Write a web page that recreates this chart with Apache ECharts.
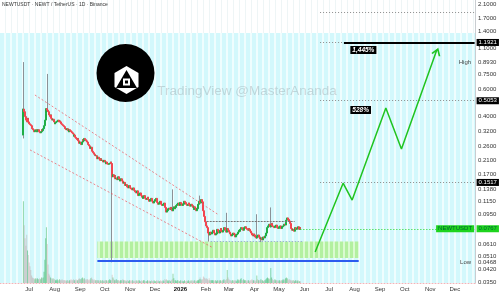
<!DOCTYPE html>
<html>
<head>
<meta charset="utf-8">
<script src="https://cdn.jsdelivr.net/npm/echarts@6/dist/echarts.min.js"></script>
<style>
  html, body { margin: 0; padding: 0; background: #fff; }
  #chart { width: 500px; height: 295px; }
</style>
</head>
<body>
<div id="chart"></div>
<script>
// --- data (daily candles, NEWTUSDT 1D) ---
const startDay = '2025-05-27'      // left edge of the time axis
const dayCount = 578               // up to late Dec 2026
const firstCandle = '2025-06-24'
const firstOpen = 0.305
const closes = [
  0.447, 0.43, 0.40, 0.38, 0.37, 0.39, 0.37, 0.36, 0.355, 0.35,
  0.34, 0.335, 0.33, 0.32, 0.325, 0.33, 0.32, 0.325, 0.33, 0.32,
  0.315, 0.32, 0.33, 0.325, 0.335, 0.35, 0.38, 0.42, 0.45, 0.44,
  0.43, 0.41, 0.40, 0.41, 0.39, 0.38, 0.385, 0.37, 0.36, 0.365,
  0.37, 0.375, 0.38, 0.37, 0.375, 0.37, 0.36, 0.355, 0.35, 0.345,
  0.34, 0.335, 0.33, 0.335, 0.325, 0.32, 0.33, 0.325, 0.32, 0.315,
  0.31, 0.30, 0.305, 0.295, 0.29, 0.285, 0.29, 0.28, 0.27, 0.275,
  0.265, 0.275, 0.285, 0.28, 0.29, 0.285, 0.28, 0.275, 0.27, 0.265,
  0.26, 0.25, 0.255, 0.245, 0.24, 0.235, 0.23, 0.225, 0.225, 0.22,
  0.215, 0.22, 0.215, 0.21, 0.215, 0.21, 0.21, 0.205, 0.21, 0.205,
  0.20, 0.205, 0.20, 0.198, 0.20, 0.202, 0.205, 0.20, 0.165, 0.17,
  0.165, 0.168, 0.16, 0.162, 0.158, 0.165, 0.16, 0.155, 0.158, 0.16,
  0.155, 0.15, 0.152, 0.148, 0.145, 0.147, 0.142, 0.14, 0.143, 0.145,
  0.14, 0.138, 0.136, 0.14, 0.138, 0.135, 0.132, 0.13, 0.134, 0.128,
  0.125, 0.128, 0.13, 0.125, 0.122, 0.12, 0.123, 0.125, 0.12, 0.118,
  0.12, 0.122, 0.118, 0.115, 0.118, 0.12, 0.118, 0.115, 0.112, 0.115,
  0.118, 0.12, 0.116, 0.113, 0.11, 0.112, 0.115, 0.112, 0.11, 0.108,
  0.11, 0.112, 0.105, 0.102, 0.098, 0.10, 0.103, 0.104, 0.102, 0.105,
  0.103, 0.10, 0.104, 0.106, 0.103, 0.105, 0.108, 0.11, 0.112, 0.108,
  0.11, 0.113, 0.111, 0.108, 0.11, 0.112, 0.115, 0.113, 0.11, 0.108,
  0.11, 0.112, 0.109, 0.107, 0.11, 0.108, 0.105, 0.102, 0.106, 0.104,
  0.10, 0.103, 0.106, 0.11, 0.115, 0.112, 0.118, 0.114, 0.11, 0.10,
  0.092, 0.085, 0.08, 0.078, 0.074, 0.072, 0.07, 0.073, 0.071, 0.072,
  0.073, 0.075, 0.072, 0.07, 0.071, 0.073, 0.076, 0.074, 0.072, 0.075,
  0.077, 0.074, 0.073, 0.075, 0.078, 0.076, 0.074, 0.073, 0.077, 0.075,
  0.073, 0.071, 0.07, 0.069, 0.07, 0.072, 0.071, 0.069, 0.068, 0.07,
  0.071, 0.073, 0.075, 0.074, 0.076, 0.078, 0.077, 0.075, 0.076, 0.078,
  0.079, 0.077, 0.076, 0.075, 0.077, 0.076, 0.074, 0.072, 0.07, 0.069,
  0.071, 0.07, 0.068, 0.067, 0.069, 0.068, 0.07, 0.068, 0.066, 0.067,
  0.065, 0.066, 0.068, 0.067, 0.069, 0.072, 0.075, 0.078, 0.08, 0.082,
  0.079, 0.081, 0.083, 0.08, 0.079, 0.078, 0.08, 0.081, 0.079, 0.078,
  0.077, 0.079, 0.08, 0.078, 0.077, 0.079, 0.08, 0.082, 0.081, 0.084,
  0.087, 0.09, 0.088, 0.086, 0.083, 0.079, 0.077, 0.075, 0.076, 0.074,
  0.077, 0.078, 0.076, 0.077, 0.079, 0.076, 0.078, 0.0767
]
// long wicks: [candle #, low, high]
const wicks = [
  [0, 0.29, 0.893], [29, 0.43, 0.75], [108, 0.0468, 0.205], [182, 0.10, 0.137],
  [215, 0.11, 0.125], [226, 0.0635, 0.073], [248, 0.073, 0.097], [284, 0.066, 0.095],
  [289, 0.063, 0.068], [301, 0.078, 0.105]
]
const volumes = [
  88, 62, 48, 40, 52, 35, 30, 22, 18, 14,
  8, 6, 5, 5, 4, 5, 4, 5, 4, 4,
  5, 4, 6, 5, 6, 12, 25, 48, 60, 42,
  20, 10, 8, 6, 5, 4, 5, 4, 4, 3,
  3, 4, 3, 3, 4, 3, 3, 4, 3, 3,
  3, 3, 2, 3, 3, 2, 3, 3, 4, 3,
  3, 4, 3, 3, 4, 3, 3, 4, 5, 4,
  4, 5, 6, 4, 5, 4, 3, 4, 4, 3,
  4, 3, 5, 6, 4, 3, 4, 3, 3, 3,
  3, 3, 2, 3, 3, 2, 3, 3, 2, 3,
  3, 3, 2, 3, 3, 4, 3, 3, 9, 6,
  4, 3, 3, 4, 3, 3, 3, 2, 3, 3,
  3, 4, 3, 3, 3, 2, 3, 3, 2, 3,
  3, 2, 3, 3, 2, 2, 3, 2, 3, 2,
  3, 3, 2, 2, 3, 2, 3, 3, 2, 2,
  2, 3, 2, 3, 2, 2, 3, 2, 2, 3,
  2, 2, 3, 2, 3, 2, 2, 3, 2, 2,
  3, 2, 4, 3, 4, 3, 2, 3, 3, 2,
  3, 4, 10, 5, 3, 3, 2, 3, 3, 2,
  2, 3, 2, 3, 2, 2, 3, 2, 2, 3,
  2, 3, 2, 2, 3, 2, 3, 2, 3, 2,
  3, 2, 3, 3, 4, 6, 4, 3, 4, 7,
  6, 5, 4, 5, 4, 3, 5, 3, 3, 3,
  3, 3, 2, 3, 3, 2, 3, 3, 2, 3,
  3, 2, 3, 3, 4, 3, 3, 4, 14, 6,
  4, 3, 3, 2, 3, 3, 2, 3, 3, 2,
  3, 4, 3, 3, 4, 5, 3, 3, 4, 3,
  3, 3, 2, 3, 3, 2, 3, 3, 4, 3,
  3, 3, 2, 3, 8, 4, 3, 3, 3, 4,
  3, 3, 2, 3, 3, 4, 5, 6, 5, 4,
  5, 16, 6, 4, 3, 3, 4, 3, 3, 3,
  2, 3, 3, 2, 3, 3, 4, 3, 4, 5,
  6, 5, 4, 3, 4, 3, 3, 2, 3, 3,
  2, 3, 3, 2, 3, 2, 2, 2
]

const priceTicks = [2.1, 1.7, 1.4, 1.1, 0.893, 0.75, 0.6, 0.4, 0.32, 0.26, 0.21, 0.17,
  0.138, 0.115, 0.095, 0.061, 0.051, 0.0468, 0.042, 0.035]
const priceRange = [0.0345, 2.228]
const monthNames = ['Jan', 'Feb', 'Mar', 'Apr', 'May', 'Jun', 'Jul', 'Aug', 'Sep', 'Oct', 'Nov', 'Dec']

// fib levels on the right
const fibStart = '2026-06-20'
const fibRatios = ['2.618', '1.618', '0.618', '0.146']
const fibPrices = [1.8508, 1.1921, 0.5053, 0.1517]
const targetStart = '2026-07-19'
const targetPrice = 1.1921
const lastPrice = 0.0767
const highPrice = 0.893
const lowPrice = 0.0468

// drawn analysis
const projDates = ['2026-06-14', '2026-07-18', '2026-07-29', '2026-09-08', '2026-09-27', '2026-11-09']
const projPrices = [0.0545, 0.150, 0.117, 0.454, 0.248, 1.067]
const channelUpper = [['2025-07-08', 0.55], ['2026-02-15', 0.0953]]
const channelLower = [['2025-07-02', 0.245], ['2026-02-08', 0.0586]]
const rangeTop = [['2026-02-02', '2026-05-20'], 0.0858]
const rangeBottom = [['2026-02-07', '2026-05-29'], 0.0635]
const zoneDates = ['2025-09-22', '2026-08-06']
const zonePrices = [0.0635, 0.0498]
const supportPrice = 0.0476
const gainLabels = [['2026-07-25', 1.067, '1,445%'], ['2026-07-25', 0.441, '528%']]

const COLORS = {
  up: '#1fae45',
  down: '#f2454f',
  wick: '#8c9196',
  volUp: 'rgba(34,171,76,0.45)',
  volDown: 'rgba(190,150,150,0.40)',
  proj: '#1fc41f',
  fib: '#8d8d8d',
  axisText: '#333',
  tagGreen: '#1ed41e',
}

const L = Math.log
const FONT = 'Liberation Sans, Arial, sans-serif'

// categories: one per day
const days = []
const d0 = Date.parse(startDay + 'T00:00:00Z')
for (let i = 0; i < dayCount; i++) days.push(new Date(d0 + i * 864e5).toISOString().slice(0, 10))
const lastDay = days[days.length - 1]

const c0 = days.indexOf(firstCandle)
const candleData = []
const volData = []
let prev = firstOpen
closes.forEach((c, k) => {
  const o = prev
  prev = c
  const d = days[c0 + k]
  candleData.push([d, L(o), L(c), L(Math.min(o, c)), L(Math.max(o, c))])
  volData.push({ value: [d, volumes[k]], itemStyle: { color: c >= o ? COLORS.volUp : COLORS.volDown } })
})
const wickData = wicks.map(([k, lo, hi]) => {
  const o = k ? closes[k - 1] : firstOpen
  return [days[c0 + k], L(o), L(closes[k]), L(lo), L(hi)]
})
const lastCandleDay = days[c0 + closes.length - 1]

// stripe textures
function stripes(a, b, w, gap) {
  const cv = document.createElement('canvas')
  cv.width = w + gap; cv.height = 2
  const g = cv.getContext('2d')
  g.fillStyle = a; g.fillRect(0, 0, w + gap, 2)
  g.fillStyle = b; g.fillRect(w, 0, gap, 2)
  return { image: cv, repeat: 'repeat' }
}

const tagLabel = (text, bg, color) => ({
  show: true, position: 'end', formatter: text, backgroundColor: bg, color,
  fontSize: 6, fontFamily: FONT, padding: [1, 2, 0, 2], distance: 2,
})
const fibText = text => ({
  show: true, position: 'insideEndBottom', formatter: text, color: '#444',
  fontSize: 5.5, fontFamily: FONT, distance: 2,
})
const seg = (a, b, style, label) => [
  { coord: [a[0], L(a[1])], lineStyle: style, label: label || { show: false } },
  { coord: [b[0], L(b[1])] },
]

const dotted = { color: COLORS.fib, width: 1, type: [1, 2] }
const hidden = { opacity: 0 }
const markLines = []
fibPrices.forEach((p, i) => {
  markLines.push(seg([fibStart, p], [lastDay, p], dotted,
    i === 0 ? { show: false } : tagLabel(p.toFixed(4), '#000', '#fff')))
  markLines.push(seg([fibStart, p], [lastDay, p], hidden, fibText(fibRatios[i] + ' (' + p.toFixed(4) + ')')))
})
markLines.push(seg([targetStart, targetPrice], [lastDay, targetPrice], { color: '#000', width: 2, type: 'solid' }))
markLines.push(seg([lastCandleDay, lastPrice], [lastDay, lastPrice], { color: COLORS.tagGreen, width: 1, type: [1, 2] },
  tagLabel(lastPrice.toFixed(4), COLORS.tagGreen, '#063')))
const channelStyle = { color: 'rgba(240,80,90,0.7)', width: 1, type: [2, 2] }
markLines.push(seg(channelUpper[0], channelUpper[1], channelStyle))
markLines.push(seg(channelLower[0], channelLower[1], channelStyle))
markLines.push(seg([rangeTop[0][0], rangeTop[1]], [rangeTop[0][1], rangeTop[1]], { color: '#777', width: 1, type: [2, 1] }))
markLines.push(seg([rangeBottom[0][0], rangeBottom[1]], [rangeBottom[0][1], rangeBottom[1]], { color: '#8fa0d8', width: 1, type: [1, 2] }))
markLines.push(seg([zoneDates[0], supportPrice], [zoneDates[1], supportPrice], { color: '#2d5bef', width: 2, type: 'solid' }))

const pointLabel = (text, pos, extra) => Object.assign({
  show: true, position: pos, formatter: text, fontSize: 6, fontFamily: FONT, distance: 1, color: '#444',
}, extra || {})
const markPoints = [
  { coord: [lastDay, L(highPrice)], label: pointLabel('High', 'left', { distance: 3 }) },
  { coord: [lastDay, L(lowPrice)], label: pointLabel('Low', 'left', { distance: 3 }) },
  { coord: [lastDay, L(lastPrice)], label: pointLabel('NEWTUSDT', 'left',
    { backgroundColor: COLORS.tagGreen, color: '#063', padding: [1, 2, 0, 2], distance: 0 }) },
  ...gainLabels.map(([d, p, t]) => ({ coord: [d, L(p)], label: pointLabel(t, 'right',
    { backgroundColor: '#000', color: '#fff', fontWeight: 'bold', fontStyle: 'italic', fontSize: 6.5, padding: [1, 2, 0, 2] }) })),
]

const chart = echarts.init(document.getElementById('chart'), null, { renderer: 'canvas' })

chart.setOption({
  animation: false,
  backgroundColor: '#fff',
  textStyle: { fontFamily: FONT },
  graphic: {
    elements: [
      { type: 'rect', z: -20, silent: true, shape: { x: 0, y: 0, width: 475, height: 33 },
        style: { fill: stripes('#ffffff', '#eef5f6', 5, 1) } },
      { type: 'rect', z: -20, silent: true, shape: { x: 0, y: 33, width: 475, height: 250 },
        style: { fill: stripes('#d3f8fc', '#effdfe', 4, 2) } },
      { type: 'text', z: -10, silent: true, style: { x: 2, y: 2, text: 'NEWTUSDT · NEWT / TetherUS · 1D · Binance',
        fontSize: 5, fill: '#333', fontFamily: FONT } },
      { type: 'text', z: -10, silent: true, style: { x: 247, y: 91, text: 'TradingView @MasterAnanda',
        fontSize: 13.5, fill: 'rgba(140,150,155,0.35)', fontFamily: FONT, align: 'center', verticalAlign: 'middle' } },
      // token logo
      { type: 'circle', z: 10, silent: true, shape: { cx: 125.5, cy: 73, r: 29 }, style: { fill: '#000' } },
      { type: 'polygon', z: 11, silent: true,
        shape: { points: [[126.5, 66], [138.5, 73], [138.5, 87], [126.5, 94], [114.5, 87], [114.5, 73]] },
        style: { fill: '#fff' } },
      { type: 'polygon', z: 12, silent: true, shape: { points: [[126.5, 70], [137, 88], [116, 88]] }, style: { fill: '#000' } },
      { type: 'rect', z: 13, silent: true, shape: { x: 123, y: 78.5, width: 7, height: 7 }, style: { fill: '#fff' } },
      { type: 'rect', z: 14, silent: true, shape: { x: 125, y: 80.5, width: 3, height: 3 }, style: { fill: '#000' } },
    ],
  },
  grid: [
    { left: 0, right: 25, top: 0, bottom: 12 },
    { left: 0, right: 25, top: 190, bottom: 12 },
  ],
  xAxis: [
    {
      type: 'category', data: days, boundaryGap: true,
      axisLine: { show: true, onZero: false, lineStyle: { color: '#f3b3b8', type: [1, 2] } },
      axisTick: { show: false },
      splitLine: { show: false },
      axisLabel: {
        fontSize: 6, color: COLORS.axisText, margin: 3,
        interval: (i, v) => v.endsWith('-01') && v !== '2025-06-01',
        formatter: v => {
          const m = +v.slice(5, 7)
          return m === 1 ? '{y|' + v.slice(0, 4) + '}' : monthNames[m - 1]
        },
        rich: { y: { fontSize: 6, fontWeight: 'bold', color: '#111' } },
      },
    },
    { type: 'category', data: days, gridIndex: 1, show: false },
  ],
  yAxis: [
    {
      type: 'value', position: 'right', min: L(priceRange[0]), max: L(priceRange[1]),
      axisLine: { show: true, lineStyle: { color: '#c9cdd1' } },
      axisTick: { show: false },
      splitLine: { show: false },
      axisLabel: {
        fontSize: 6, color: COLORS.axisText, margin: 3,
        customValues: priceTicks.map(L),
        formatter: v => Math.exp(v).toFixed(4),
      },
    },
    { type: 'value', gridIndex: 1, min: 0, max: 100, show: false },
  ],
  series: [
    {
      name: 'volume', type: 'bar', xAxisIndex: 1, yAxisIndex: 1, data: volData,
      barWidth: 1, silent: true, z: 1,
    },
    {
      name: 'wicks', type: 'candlestick', data: wickData, encode: { x: 0, y: [1, 2, 3, 4] },
      barWidth: 1.5, silent: true, z: 2,
      itemStyle: { color: COLORS.wick, color0: COLORS.wick, borderColor: COLORS.wick, borderColor0: COLORS.wick, borderWidth: 1 },
    },
    {
      name: 'NEWTUSDT', type: 'candlestick', data: candleData, encode: { x: 0, y: [1, 2, 3, 4] },
      barWidth: 1.5, silent: true, z: 3,
      itemStyle: { color: COLORS.up, color0: COLORS.down, borderColor: COLORS.up, borderColor0: COLORS.down, borderWidth: 1 },
    },
    {
      name: 'projection', type: 'line', z: 5, clip: false, silent: true,
      data: projDates.map((d, i) => [d, L(projPrices[i])]),
      symbol: 'none',
      lineStyle: { color: COLORS.proj, width: 1.5 },
      markArea: {
        silent: true,
        itemStyle: { color: stripes('#b3f0a0', '#dafad0', 3, 2) },
        data: [[{ coord: [zoneDates[0], L(zonePrices[0])] }, { coord: [zoneDates[1], L(zonePrices[1])] }]],
      },
      markLine: { silent: true, symbol: ['none', 'none'], data: markLines },
      markPoint: {
        silent: true, symbol: 'rect', symbolSize: 1, itemStyle: { color: 'transparent' },
        data: [
          ...markPoints,
          {
            coord: [projDates[projDates.length - 1], L(projPrices[projPrices.length - 1])],
            symbol: 'path://M0,8 L5,0 L10,8', symbolSize: [8, 6], symbolRotate: -20, symbolOffset: [0, 2],
            itemStyle: { color: 'transparent', borderColor: COLORS.proj, borderWidth: 1.5 },
            label: { show: false },
          },
        ],
      },
    },
  ],
})
</script>
</body>
</html>
